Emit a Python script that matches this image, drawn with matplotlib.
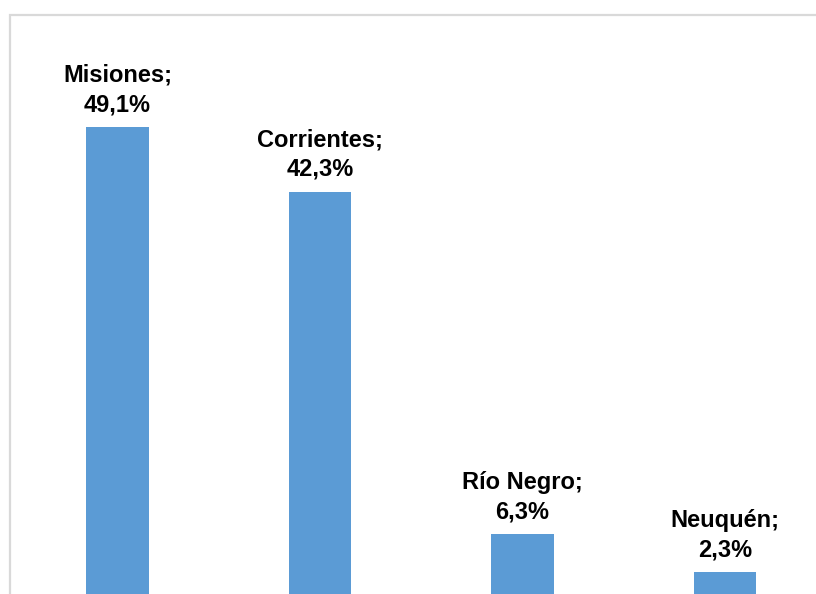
import matplotlib
matplotlib.use("Agg")
import matplotlib.pyplot as plt
from matplotlib.patches import Rectangle

# Data
provinces = ["Misiones", "Corrientes", "Río Negro", "Neuquén"]
shares = [49.1, 42.3, 6.3, 2.3]
share_labels = ["49,1%", "42,3%", "6,3%", "2,3%"]

BAR_COLOR = "#5b9bd5"

fig = plt.figure(figsize=(8.16, 5.94), dpi=100)
ax = fig.add_axes([0, 0, 1, 1])

# light grey chart-area frame, cropped at right and bottom
fig.patches.append(Rectangle((10 / 816, -0.1), 1.2, 1 - 15 / 594 + 0.1,
                             transform=fig.transFigure, fill=False,
                             edgecolor="#d9d9d9", linewidth=1.6, zorder=0))

x = list(range(len(provinces)))
bars = ax.bar(x, shares, width=0.31, color=BAR_COLOR, zorder=2)

for xi, name, val, lab in zip(x, provinces, shares, share_labels):
    ax.annotate(f"{name};\n{lab}", xy=(xi, val), xytext=(0, 8),
                textcoords="offset points", ha="center", va="bottom",
                fontsize=17, fontweight="bold", family="Liberation Sans",
                linespacing=1.35, color="black")

ax.set_xlim(-0.580, 3.449)
ax.set_ylim(0, 62.5)
ax.axis("off")

fig.savefig("out.png", dpi=100)
